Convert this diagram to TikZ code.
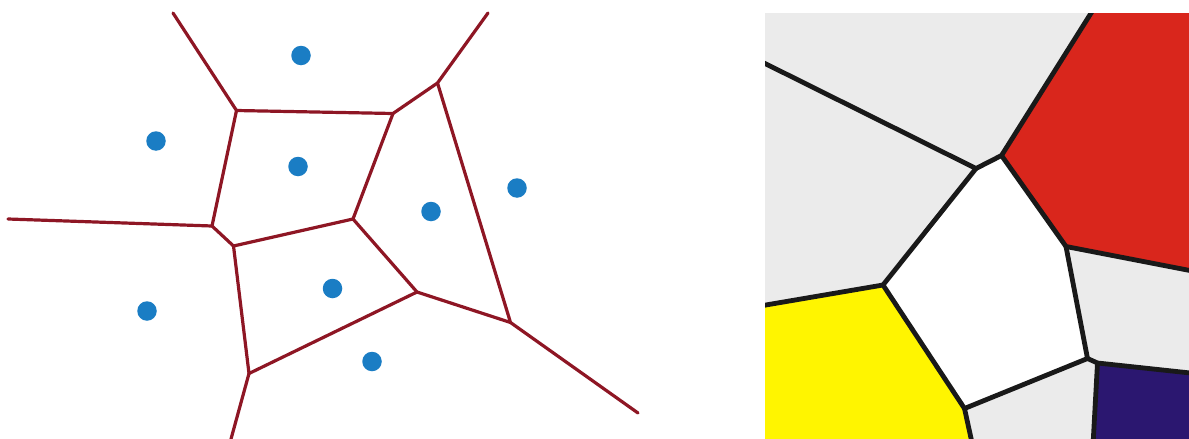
\documentclass[tikz,border=0pt]{standalone}
\definecolor{edgered}{RGB}{142,22,36}
\definecolor{dotblue}{RGB}{26,125,196}
\definecolor{cellgray}{RGB}{235,235,235}
\definecolor{cellred}{RGB}{217,38,28}
\definecolor{cellyellow}{RGB}{255,245,0}
\definecolor{cellblue}{RGB}{43,23,112}
\definecolor{edgeblack}{RGB}{25,25,25}
\tikzset{
  vedge/.style={draw=edgered, line width=3.2pt, line join=round, line cap=round},
  site/.style={circle, fill=dotblue, inner sep=0pt, minimum size=19.5pt},
  cedge/.style={draw=edgeblack, line width=4.8pt, line join=round},
}
\begin{document}
\begin{tikzpicture}[x=1pt,y=-1pt]
\useasboundingbox (0,0) rectangle (1189,439);
% ---------- left panel: Voronoi diagram ----------
\coordinate (tl) at (173,13);
\coordinate (tr) at (488,13);
\coordinate (lf) at (8,219);
\coordinate (bt) at (231,439);
\coordinate (br) at (638,413);
\coordinate (A) at (236.5,110.5);
\coordinate (B) at (437.5,83);
\coordinate (C) at (393,113.5);
\coordinate (D) at (212,226);
\coordinate (E) at (233.5,246);
\coordinate (F) at (353,219);
\coordinate (G) at (417,292);
\coordinate (H) at (510.5,322.5);
\coordinate (I) at (249,373.5);
\draw[vedge] (tl) -- (A) -- (C) -- (B) -- (tr);
\draw[vedge] (lf) -- (D) -- (E) -- (F) -- (C);
\draw[vedge] (A) -- (D);
\draw[vedge] (F) -- (G) -- (H) -- (B);
\draw[vedge] (E) -- (I) -- (G);
\draw[vedge] (I) -- (bt);
\draw[vedge] (H) -- (br);
\node[site] (s1) at (301,55.5) {};
\node[site] (s2) at (156,141) {};
\node[site] (s3) at (298,166.5) {};
\node[site] (s4) at (431,211.5) {};
\node[site] (s5) at (517,188) {};
\node[site] (s6) at (147,311) {};
\node[site] (s7) at (332.5,288.5) {};
\node[site] (s8) at (372,361.5) {};
% ---------- right panel: coloured cells ----------
\begin{scope}
\clip (765,13) rectangle (1189,439);
\fill[cellgray] (765,13) rectangle (1189,439);
\coordinate (P1) at (976,168.5);
\coordinate (P2) at (1001.5,155.5);
\coordinate (P3) at (1066,246.5);
\coordinate (P4) at (1087.5,358.5);
\coordinate (P5) at (964.5,408.5);
\coordinate (P6) at (883,285);
\coordinate (Q) at (1097.5,363);
\coordinate (rl) at (760,61);
\coordinate (rt) at (1093,10);
\coordinate (rr) at (1195,271.5);
\coordinate (yl) at (760,306);
\coordinate (yb) at (972.5,445);
\coordinate (qr) at (1195,373.5);
\coordinate (qb) at (1093,445);
\fill[cellred] (P2) -- (rt) -- (1195,10) -- (rr) -- (P3) -- cycle;
\fill[cellyellow] (yl) -- (P6) -- (P5) -- (yb) -- (760,445) -- cycle;
\fill[cellblue] (Q) -- (qr) -- (1195,445) -- (qb) -- cycle;
\fill[white] (P1) -- (P2) -- (P3) -- (P4) -- (P5) -- (P6) -- cycle;
\draw[cedge] (rl) -- (P1) -- (P2) -- (rt);
\draw[cedge] (P2) -- (P3) -- (rr);
\draw[cedge] (P3) -- (P4) -- (P5) -- (P6) -- (P1);
\draw[cedge] (yl) -- (P6);
\draw[cedge] (P5) -- (yb);
\draw[cedge] (P4) -- (Q) -- (qr);
\draw[cedge] (Q) -- (qb);
\end{scope}
\end{tikzpicture}
\end{document}
